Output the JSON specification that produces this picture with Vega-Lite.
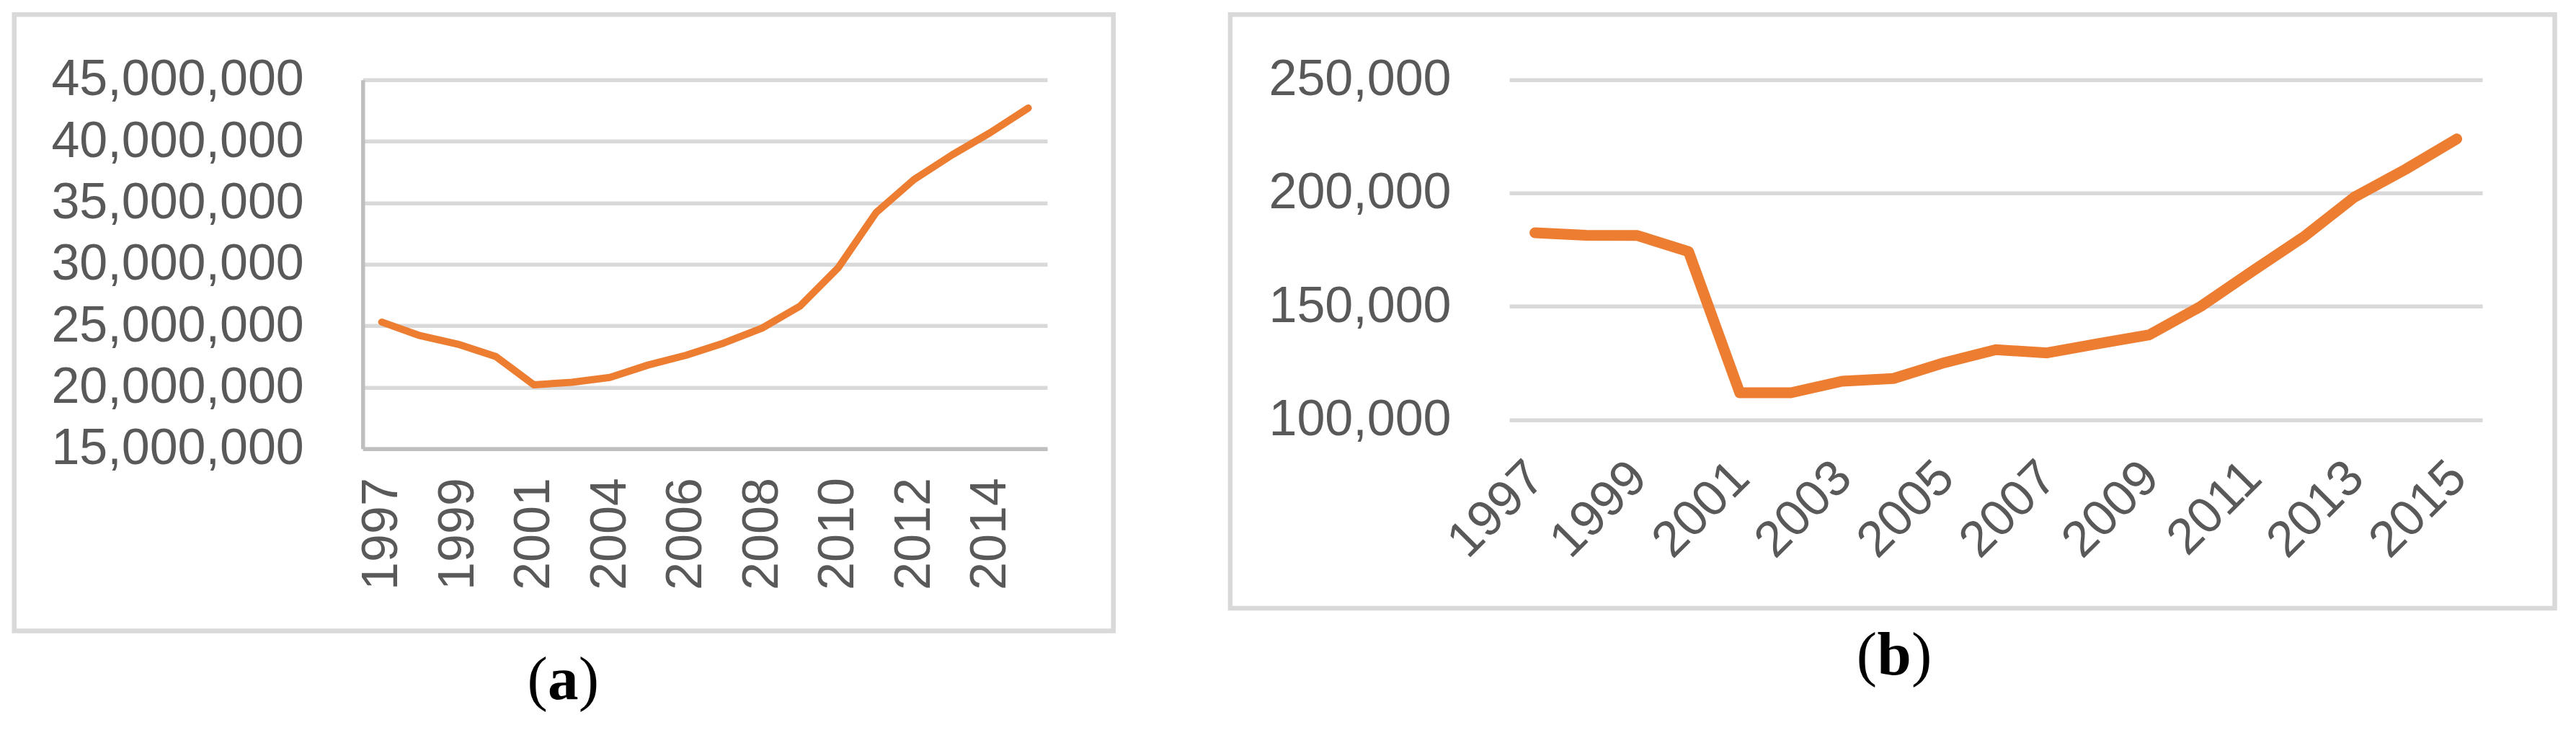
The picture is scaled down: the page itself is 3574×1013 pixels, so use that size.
{
  "$schema": "https://vega.github.io/schema/vega-lite/v6.json",
  "background": "white",
  "padding": {"left": 16.25, "top": 16.75, "right": 0, "bottom": 0},
  "spacing": 154.8,
  "config": {
    "view": {"stroke": null},
    "axis": {
      "labelFont": "Liberation Sans",
      "labelFontSize": 70,
      "labelColor": "#595959",
      "labelOverlap": false,
      "labelFlush": false,
      "labelBound": false,
      "labelLimit": 0,
      "ticks": false,
      "tickSize": 0,
      "title": null
    }
  },
  "hconcat": [
    {
      "width": 949.7,
      "height": 511.9,
      "data": {"values": [
        {"i": 0, "year": "1997", "v": 25300000},
        {"i": 1, "year": "1998", "v": 24200000},
        {"i": 2, "year": "1999", "v": 23500000},
        {"i": 3, "year": "2000", "v": 22500000},
        {"i": 4, "year": "2001", "v": 20200000},
        {"i": 5, "year": "2002", "v": 20400000},
        {"i": 6, "year": "2004", "v": 20800000},
        {"i": 7, "year": "2005", "v": 21800000},
        {"i": 8, "year": "2006", "v": 22600000},
        {"i": 9, "year": "2007", "v": 23600000},
        {"i": 10, "year": "2008", "v": 24800000},
        {"i": 11, "year": "2009", "v": 26600000},
        {"i": 12, "year": "2010", "v": 29700000},
        {"i": 13, "year": "2011", "v": 34200000},
        {"i": 14, "year": "2012", "v": 36900000},
        {"i": 15, "year": "2013", "v": 38900000},
        {"i": 16, "year": "2014", "v": 40700000},
        {"i": 17, "year": "2015", "v": 42700000}
      ]},
      "layer": [
        {
          "mark": {"type": "line", "color": "#ED7D31", "strokeWidth": 10, "strokeCap": "round", "strokeJoin": "round"},
          "encoding": {
            "x": {
              "field": "i", "type": "quantitative",
              "scale": {"domain": [-0.5, 17.5], "nice": false, "zero": false},
              "axis": {
                "values": [0, 2, 4, 6, 8, 10, 12, 14, 16],
                "labelExpr": "['1997','1998','1999','2000','2001','2002','2004','2005','2006','2007','2008','2009','2010','2011','2012','2013','2014','2015'][datum.value]",
                "labelAngle": 270,
                "labelPadding": 40,
                "grid": false,
                "domain": true, "domainColor": "#BFBFBF", "domainWidth": 5.5
              }
            },
            "y": {
              "field": "v", "type": "quantitative",
              "scale": {"domain": [15000000, 45000000], "nice": false, "zero": false},
              "axis": {
                "values": [15000000, 20000000, 25000000, 30000000, 35000000, 40000000, 45000000],
                "format": ",d",
                "labelPadding": 82,
                "grid": true, "gridColor": "#D9D9D9", "gridWidth": 5.5,
                "domain": true, "domainColor": "#BFBFBF", "domainWidth": 5.5
              }
            }
          }
        },
        {
          "data": {"values": [{}]},
          "mark": {"type": "rect", "fill": null, "stroke": "#D9D9D9", "strokeWidth": 6.5},
          "encoding": {
            "x": {"datum": -9.664, "type": "quantitative"},
            "x2": {"datum": 19.24},
            "y": {"datum": 50309700, "type": "quantitative"},
            "y2": {"datum": 184600}
          }
        },
        {
          "data": {"values": [{}]},
          "mark": {"type": "text", "text": "a", "font": "Liberation Serif", "fontWeight": "bold", "fontSize": 85, "color": "black", "align": "center", "baseline": "alphabetic"},
          "encoding": {
            "x": {"datum": 4.769, "type": "quantitative"},
            "y": {"datum": -5365000, "type": "quantitative"}
          }
        },
        {
          "data": {"values": [{}]},
          "mark": {"type": "text", "text": "(", "font": "Liberation Serif", "fontSize": 85, "color": "black", "align": "right", "baseline": "alphabetic", "dx": -21.5},
          "encoding": {
            "x": {"datum": 4.769, "type": "quantitative"},
            "y": {"datum": -5365000, "type": "quantitative"}
          }
        },
        {
          "data": {"values": [{}]},
          "mark": {"type": "text", "text": ")", "font": "Liberation Serif", "fontSize": 85, "color": "black", "align": "left", "baseline": "alphabetic", "dx": 21.5},
          "encoding": {
            "x": {"datum": 4.769, "type": "quantitative"},
            "y": {"datum": -5365000, "type": "quantitative"}
          }
        }
      ]
    },
    {
      "width": 1350,
      "height": 471.7,
      "data": {"values": [
        {"year": 1997, "v": 182500},
        {"year": 1998, "v": 181400},
        {"year": 1999, "v": 181300},
        {"year": 2000, "v": 174200},
        {"year": 2001, "v": 111900},
        {"year": 2002, "v": 111900},
        {"year": 2003, "v": 117000},
        {"year": 2004, "v": 118200},
        {"year": 2005, "v": 125200},
        {"year": 2006, "v": 130900},
        {"year": 2007, "v": 129500},
        {"year": 2008, "v": 133600},
        {"year": 2009, "v": 137500},
        {"year": 2010, "v": 150000},
        {"year": 2011, "v": 165400},
        {"year": 2012, "v": 180500},
        {"year": 2013, "v": 198200},
        {"year": 2014, "v": 210500},
        {"year": 2015, "v": 223900}
      ]},
      "layer": [
        {
          "mark": {"type": "line", "color": "#ED7D31", "strokeWidth": 15, "strokeCap": "round", "strokeJoin": "round"},
          "encoding": {
            "x": {
              "field": "year", "type": "quantitative",
              "scale": {"domain": [1996.5, 2015.5], "nice": false, "zero": false},
              "axis": {
                "values": [1997, 1999, 2001, 2003, 2005, 2007, 2009, 2011, 2013, 2015],
                "format": "d",
                "labelAngle": 315,
                "labelPadding": 45,
                "labelOffset": -22.5,
                "grid": false,
                "domain": false
              }
            },
            "y": {
              "field": "v", "type": "quantitative",
              "scale": {"domain": [100000, 250000], "nice": false, "zero": false},
              "axis": {
                "values": [100000, 150000, 200000, 250000],
                "format": ",d",
                "labelPadding": 81,
                "grid": true, "gridColor": "#D9D9D9", "gridWidth": 5.5,
                "domain": false
              }
            }
          }
        },
        {
          "data": {"values": [{}]},
          "mark": {"type": "rect", "fill": null, "stroke": "#D9D9D9", "strokeWidth": 6.5},
          "encoding": {
            "x": {"datum": 1991.0505, "type": "quantitative"},
            "x2": {"datum": 2016.914},
            "y": {"datum": 278779, "type": "quantitative"},
            "y2": {"datum": 16811}
          }
        },
        {
          "data": {"values": [{}]},
          "mark": {"type": "text", "text": "b", "font": "Liberation Serif", "fontWeight": "bold", "fontSize": 85, "color": "black", "align": "center", "baseline": "alphabetic"},
          "encoding": {
            "x": {"datum": 2004.0155, "type": "quantitative"},
            "y": {"datum": -12286, "type": "quantitative"}
          }
        },
        {
          "data": {"values": [{}]},
          "mark": {"type": "text", "text": "(", "font": "Liberation Serif", "fontSize": 85, "color": "black", "align": "right", "baseline": "alphabetic", "dx": -24},
          "encoding": {
            "x": {"datum": 2004.0155, "type": "quantitative"},
            "y": {"datum": -12286, "type": "quantitative"}
          }
        },
        {
          "data": {"values": [{}]},
          "mark": {"type": "text", "text": ")", "font": "Liberation Serif", "fontSize": 85, "color": "black", "align": "left", "baseline": "alphabetic", "dx": 24},
          "encoding": {
            "x": {"datum": 2004.0155, "type": "quantitative"},
            "y": {"datum": -12286, "type": "quantitative"}
          }
        }
      ]
    }
  ]
}
